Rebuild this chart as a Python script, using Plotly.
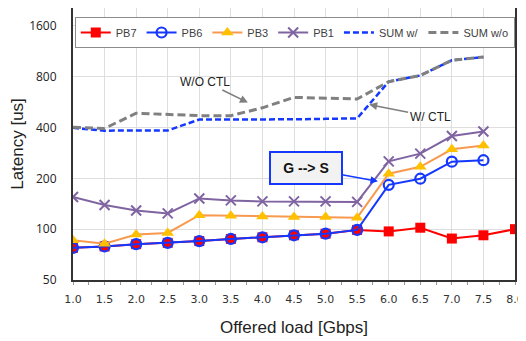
import math
import plotly.graph_objects as go

# ---- data ----
load = [1.0, 1.5, 2.0, 2.5, 3.0, 3.5, 4.0, 4.5, 5.0, 5.5, 6.0, 6.5, 7.0, 7.5, 8.0]
pb7 = [77.5, 79, 81.5, 83, 85, 87.5, 89.5, 92, 94, 99, 97, 102, 88, 92, 100]
pb6 = [77.5, 79, 81.5, 83, 85, 87.5, 89.5, 92, 94, 99, 183, 199, 251, 256, None]
pb3 = [86, 82, 93, 95, 121, 120, 119, 118, 118, 117, 213, 234, 297, 313, None]
pb1 = [155, 139, 129, 124, 152, 148, 146, 146, 146, 145, 252, 280, 356, 379, None]
sum_w = [398, 383, 384, 384, 446, 446, 445, 447, 450, 453, 747, 813, 1000, 1045, None]
sum_wo = [401, 395, 486, 477, 470, 470, 523, 603, 595, 590, 747, 813, 1000, 1045, None]

y_ticks = [50, 100, 200, 400, 800, 1600]
x_ticks = [1.0, 1.5, 2.0, 2.5, 3.0, 3.5, 4.0, 4.5, 5.0, 5.5, 6.0, 6.5, 7.0, 7.5, 8.0]
x_ticklabels = [f"{v:.1f}" for v in x_ticks]

FONT = "Liberation Sans, Arial, sans-serif"
LBL = "Open Sans, Noto Sans, sans-serif"

fig = go.Figure()
fig.add_trace(go.Scatter(x=load, y=pb7, name="PB7", mode="lines+markers",
                         line=dict(color="#ff0000", width=2),
                         marker=dict(symbol="square", size=10, color="#ff0000")))
fig.add_trace(go.Scatter(x=load, y=pb6, name="PB6", mode="lines+markers",
                         line=dict(color="#1438ff", width=2),
                         marker=dict(symbol="circle-open", size=10, color="#1438ff",
                                     line=dict(width=2.2))))
fig.add_trace(go.Scatter(x=load, y=pb3, name="PB3", mode="lines+markers",
                         line=dict(color="#f79a50", width=2),
                         marker=dict(symbol="triangle-up", size=11, color="#ffc000")))
fig.add_trace(go.Scatter(x=load, y=pb1, name="PB1", mode="lines+markers",
                         line=dict(color="#8064a2", width=2),
                         marker=dict(symbol="x-thin", size=10,
                                     line=dict(color="#8064a2", width=2))))
fig.add_trace(go.Scatter(x=load, y=sum_w, name="SUM w/", mode="lines",
                         line=dict(color="#1438ff", width=2.5, dash="6px,3px")))
fig.add_trace(go.Scatter(x=load, y=sum_wo, name="SUM w/o", mode="lines",
                         line=dict(color="#808080", width=3, dash="8px,4px")))

# annotations on a log axis take log10 of the value
fig.add_annotation(x=3.77, y=math.log10(562), ax=-43, ay=-21, xref="x", yref="y",
                   text="W/O CTL", showarrow=True, arrowhead=2, arrowsize=1,
                   arrowwidth=1.6, arrowcolor="#7f7f7f",
                   font=dict(family=FONT, size=12, color="#222"))
fig.add_annotation(x=5.69, y=math.log10(547), ax=61, ay=12, xref="x", yref="y",
                   text="W/ CTL", showarrow=True, arrowhead=2, arrowsize=1,
                   arrowwidth=1.6, arrowcolor="#7f7f7f",
                   font=dict(family=FONT, size=12, color="#222"))
fig.add_annotation(x=5.83, y=math.log10(192), ax=-72, ay=-13, xref="x", yref="y",
                   text="<b>G --> S</b>", showarrow=True, arrowhead=2, arrowsize=1,
                   arrowwidth=1.5, arrowcolor="#1438ff",
                   bgcolor="#f2f2f2", bordercolor="#1438ff", borderwidth=2,
                   borderpad=3, width=64, height=24,
                   font=dict(family=FONT, size=14, color="#111"))

# The page body has an 8px default margin, so the figure is sized to fit
# the 526x341 window and margins are reduced by 8px on the left/top.
fig.update_layout(
    width=518, height=333,
    margin=dict(l=65, r=11, t=0, b=61, autoexpand=False),
    paper_bgcolor="white", plot_bgcolor="white",
    font=dict(family=FONT, color="#222"),
    showlegend=True,
    legend=dict(orientation="h", x=0.004, y=0.967, xanchor="left", yanchor="top",
                bgcolor="white", bordercolor="#8c8c8c", borderwidth=1,
                font=dict(family=FONT, size=11, color="#404040"),
                itemwidth=30, tracegroupgap=0),
)
fig.update_xaxes(range=[1.0, 8.0], tickvals=x_ticks, ticktext=x_ticklabels,
                 automargin=False,
                 showgrid=True, gridcolor="#dedede", gridwidth=1,
                 showline=True, linecolor="#333", linewidth=2, mirror=True,
                 ticks="", tickfont=dict(family="DejaVu Sans, sans-serif", size=11, color="#333"),
                 ticklabelstandoff=8,
                 minor=dict(dtick=0.25, ticks="outside", ticklen=3, tickcolor="#999", showgrid=False),
                 title=dict(text="Offered load [Gbps]", font=dict(family=FONT, size=17, color="#222"),
                            standoff=16),
                 zeroline=False)
fig.update_yaxes(type="log", range=[1.69897, 3.3096], tickvals=y_ticks,
                 ticktext=[str(v) for v in y_ticks],
                 automargin=False,
                 showgrid=True, gridcolor="#dedede", gridwidth=1,
                 showline=True, linecolor="#333", linewidth=2, mirror=True,
                 ticks="", tickfont=dict(family=LBL, size=12, color="#222"),
                 ticklabelstandoff=12,
                 title=dict(text="Latency [us]", font=dict(family=FONT, size=17, color="#222"),
                            standoff=6),
                 zeroline=False)

fig.write_html("out.html")
